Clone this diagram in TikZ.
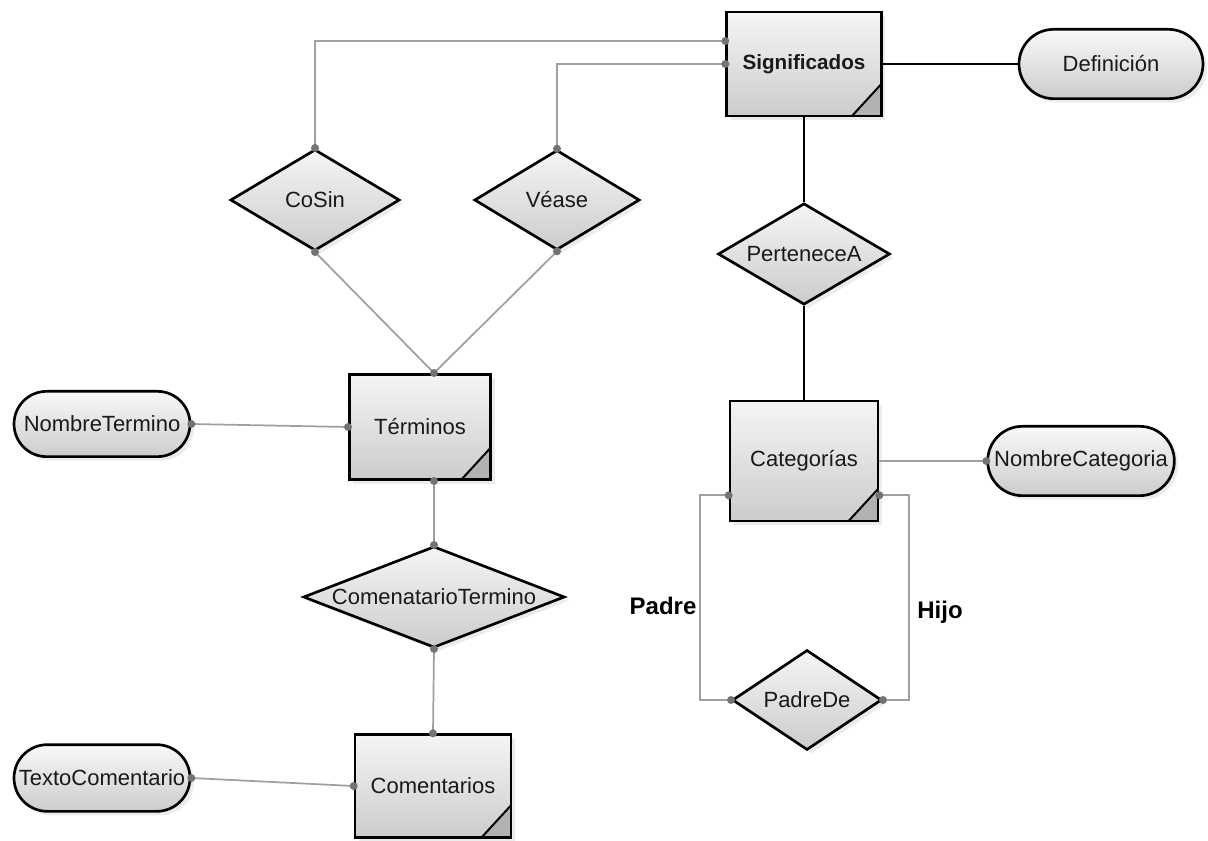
\documentclass[tikz,border=0pt]{standalone}
\usepackage{fontspec}
\setmainfont{Liberation Sans}
\usepackage{tikz}
\usetikzlibrary{shapes,shapes.geometric,shapes.misc,arrows.meta,positioning,calc,shadows}
\tikzstyle{pin} = [circle,fill=gray!90!black,inner sep=0pt,minimum size=6pt]
\tikzstyle{entity} = [rectangle,draw,line width=2pt,top color=gray!8,bottom color=gray!40,
  drop shadow={shadow xshift=3pt,shadow yshift=-3pt,opacity=0.15},
  text=gray!20!black,font=\fontsize{16.5}{19}\selectfont,
  path picture={
    \fill[gray!60] ($(path picture bounding box.south east)+(-22pt,0)$) -- (path picture bounding box.south east) -- ++(0,24pt) -- cycle;
    \draw[line width=1.5pt] ($(path picture bounding box.south east)+(-22pt,0)$) -- ++(22pt,24pt);
  }]
\tikzstyle{attr} = [rounded rectangle,draw,line width=2pt,inner xsep=0pt,top color=gray!5,bottom color=gray!40,
  drop shadow={shadow xshift=3pt,shadow yshift=-3pt,opacity=0.15},
  text=gray!20!black,font=\fontsize{16.5}{19}\selectfont]
\tikzstyle{rel} = [diamond,draw,line width=2pt,aspect=1.7,inner sep=0pt,top color=gray!8,bottom color=gray!40,
  drop shadow={shadow xshift=3pt,shadow yshift=-3pt,opacity=0.15},
  text=gray!20!black,font=\fontsize{16.5}{19}\selectfont]
\tikzstyle{thin} = [gray!75,line width=1.3pt]
\tikzstyle{strong} = [black,line width=2pt]
\tikzset{>=latex}

\begin{document}
\begin{tikzpicture}[x=0.75pt,y=-0.75pt]
    \useasboundingbox (0,0) rectangle (1208,841);
    % entidades
    \node [entity,minimum width=116pt,minimum height=78pt,font=\fontsize{15.5}{18}\bfseries] (signif) at (804,64) {Significados};
    \node [entity,minimum width=106pt,minimum height=79pt] (termi) at (420,427) {Términos};
    \node [entity,minimum width=117pt,minimum height=77pt] (coment) at (433,786) {Comentarios};
    \node [entity,minimum width=111pt,minimum height=90pt] (categ) at (804,461) {Categorías};
    % atributos
    \node [attr,minimum width=138pt,minimum height=52pt] (defin) at (1111,64) {Definición};
    \node [attr,minimum width=132pt,minimum height=49pt] (nomTerm) at (102,424) {NombreTermino};
    \node [attr,minimum width=140pt,minimum height=52pt] (nomCat) at (1081,461) {NombreCategoria};
    \node [attr,minimum width=132pt,minimum height=50pt] (textCom) at (102,778) {TextoComentario};
    % relaciones
    \node [rel,minimum width=127pt,minimum height=76pt] (cosin) at (315,200) {CoSin};
    \node [rel,minimum width=124pt,minimum height=75pt] (vease) at (557,200) {Véase};
    \node [rel,minimum width=129pt,minimum height=76pt] (perten) at (804,254) {PerteneceA};
    \node [rel,aspect=2.6,minimum width=196pt,minimum height=76pt] (comTerm) at (434,597) {ComenatarioTermino};
    \node [rel,minimum width=112pt,minimum height=75pt] (padreDe) at (807,700) {PadreDe};

    \coordinate (sigA) at (signif.north west |- 0,41);
    \coordinate (termT) at (termi.north -| comTerm.north);
    \coordinate (termB) at (termi.south -| comTerm.north);
    \coordinate (catL) at ($(categ.south west)+(0,-27)$);
    \coordinate (catR) at ($(categ.south east)+(0,-27)$);

    \draw [thin] (cosin.north) |- (sigA);
    \draw [thin] (vease.north) |- (signif.west);
    \draw [thin] (cosin.south) -- (termT);
    \draw [thin] (vease.south) -- (termT);
    \draw [thin] (nomTerm.east) -- (termi.west);
    \draw [thin] (termB) -- (comTerm.north);
    \draw [thin] (comTerm.south) -- (coment.north);
    \draw [thin] (textCom.east) -- (coment.west);
    \draw [thin] (categ.east) -- (nomCat.west);
    \draw [thin] (catL) -- ++(-29,0) |- (padreDe.west);
    \draw [thin] (catR) -- ++(30,0) |- (padreDe.east);
    \draw [strong] (signif.east) -- (defin.west);
    \draw [strong] (signif.south) -- (perten.north);
    \draw [strong] (perten.south) -- (categ.north);

    \foreach \p in {sigA,signif.west,cosin.north,cosin.south,vease.north,vease.south,
      termT,termi.west,termB,nomTerm.east,comTerm.north,comTerm.south,
      coment.north,coment.west,textCom.east,nomCat.west,catL,catR,padreDe.west,padreDe.east}
      \node [pin] at (\p) {};

    \node [font=\fontsize{18}{20}\bfseries] (padreLbl) at (663,606) {Padre};
    \node [font=\fontsize{18}{20}\bfseries] (hijoLbl) at (940,612) {Hijo};
  \end{tikzpicture}
\end{document}
